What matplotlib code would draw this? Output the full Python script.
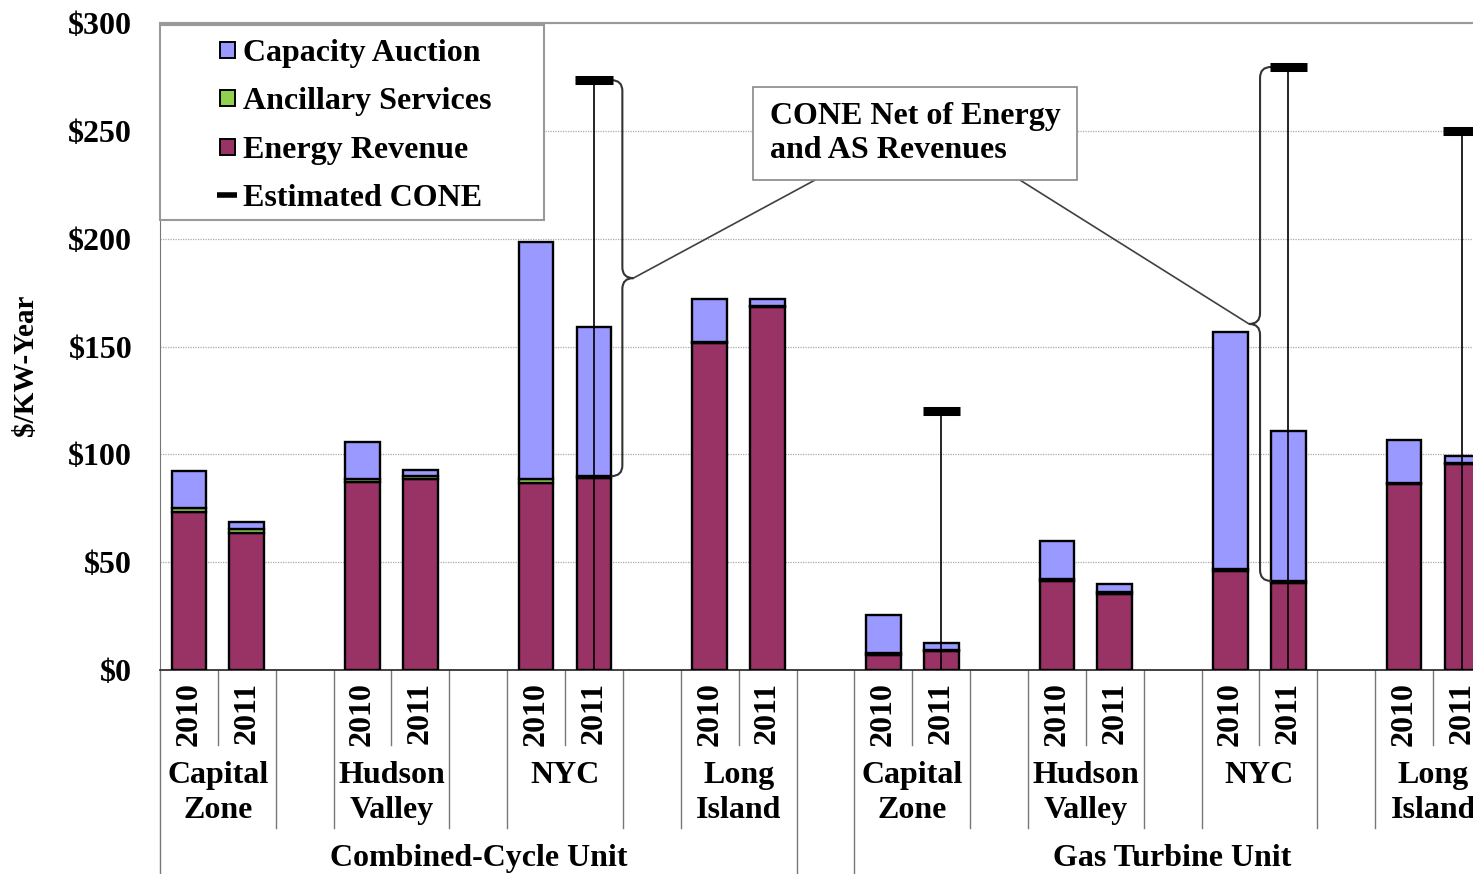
import numpy as np
import matplotlib
matplotlib.use("Agg")
import matplotlib.pyplot as plt
import matplotlib.transforms as mtransforms
from matplotlib.patches import Rectangle, PathPatch
from matplotlib.path import Path

plt.rcParams['font.family'] = ['Liberation Serif', 'DejaVu Serif']
plt.rcParams['font.weight'] = 'bold'
plt.rcParams['font.size'] = 23

# ---- data ($/kW-year), order: CC zones x (2010, 2011), then GT zones
units = ["Combined-Cycle Unit", "Gas Turbine Unit"]
regions = ["Capital\nZone", "Hudson\nValley", "NYC", "Long\nIsland"]
years = ["2010", "2011"]
energy = np.array([73.1, 63.4, 87.3, 88.4, 86.8, 88.9, 151.5, 168.3,
                   7.0, 8.7, 41.3, 35.4, 46.0, 40.5, 86.2, 95.6])
ancillary = np.array([1.9, 2.0, 1.2, 1.5, 1.6, 1.0, 0.6, 0.6,
                      1.0, 0.6, 0.9, 0.9, 0.6, 0.8, 0.6, 0.6])
capacity = np.array([17.4, 3.4, 17.3, 3.0, 110.2, 69.3, 19.7, 3.1,
                     17.5, 3.2, 17.6, 3.4, 110.3, 69.5, 19.7, 3.0])
cone = np.array([np.nan, np.nan, np.nan, np.nan, np.nan, 273.5, np.nan, np.nan,
                 np.nan, 120.0, np.nan, np.nan, np.nan, 279.6, np.nan, 250.0])
brace_bars = [5, 13]          # bars where "CONE net of E&AS" is bracketed
brace_side = [1, -1]

C_CAP, C_AS, C_EN = "#9999FF", "#92D050", "#993366"

W, H = 1473, 874
fig = plt.figure(figsize=(W / 100, H / 100), dpi=100)
ax = fig.add_axes([160 / W, (H - 670) / H, (W - 160) / W, (670 - 23) / H])

x = np.array([u * 12 + r * 3 + y for u in range(2) for r in range(4) for y in range(2)], float)
bw = 0.6
kw = dict(edgecolor="black", linewidth=1.7, zorder=3)
ax.bar(x, energy, bw, color=C_EN, **kw)
ax.bar(x, ancillary, bw, bottom=energy, color=C_AS, **kw)
ax.bar(x, capacity, bw, bottom=energy + ancillary, color=C_CAP, **kw)

# CONE markers with drop lines
m = ~np.isnan(cone)
ax.vlines(x[m], 0, cone[m], color="black", lw=1.2, zorder=5)
ax.hlines(cone[m], x[m] - 0.32, x[m] + 0.32, color="black", lw=6.5, zorder=6)


def brace(xs, xv, xt, top, bot, ry=5.0):
    mid = (top + bot) / 2
    verts = [(xs, top), (xv, top), (xv, top - ry),
             (xv, mid + ry), (xv, mid), (xt, mid),
             (xv, mid), (xv, mid - ry),
             (xv, bot + ry), (xv, bot), (xs, bot)]
    codes = [Path.MOVETO, Path.CURVE3, Path.CURVE3,
             Path.LINETO, Path.CURVE3, Path.CURVE3,
             Path.CURVE3, Path.CURVE3,
             Path.LINETO, Path.CURVE3, Path.CURVE3]
    ax.add_patch(PathPatch(Path(verts, codes), fill=False, ec="#333333",
                           lw=1.5, zorder=5))
    return xt, mid


tips = []
for i, s in zip(brace_bars, brace_side):
    tips.append(brace(x[i] + s * 0.3, x[i] + s * 0.49, x[i] + s * 0.68,
                      cone[i], energy[i] + ancillary[i]))

# callout box
bx0, bx1, by0, by1 = 9.75, 15.35, 227.2, 270.3
ax.add_patch(Rectangle((bx0, by0), bx1 - bx0, by1 - by0, fc="white",
                       ec="#888888", lw=1.2, zorder=7))
ax.text(bx0 + 0.3, (by0 + by1) / 2, "CONE Net of Energy\nand AS Revenues",
        ha="left", va="center", linespacing=1.27, zorder=8)
ax.plot([10.82, tips[0][0]], [by0, tips[0][1]], color="#404040", lw=1.2, zorder=4)
ax.plot([14.36, tips[1][0]], [by0, tips[1][1]], color="#404040", lw=1.2, zorder=4)

# axes styling
ax.set_xlim(-0.5, 22.19)
ax.set_ylim(0, 300)
yt = np.arange(0, 301, 50)
ax.set_yticks(yt)
ax.set_yticklabels([f"${v}" for v in yt])
ax.set_xticks(x)
ax.set_xticklabels(years * 8, rotation=90)
ax.tick_params(axis="y", length=0, pad=20)
ax.tick_params(axis="x", length=0, pad=9)
ax.yaxis.grid(True, ls=(0, (1, 1)), color="#aaaaaa", lw=0.9)
ax.set_axisbelow(True)
ax.spines["right"].set_visible(False)
ax.spines["top"].set_color("#999999")
ax.spines["top"].set_linewidth(1.5)
ax.spines["left"].set_color("#777777")
ax.spines["bottom"].set_color("#333333")
ax.spines["bottom"].set_linewidth(1.3)

# multi-level category axis
trans = mtransforms.blended_transform_factory(ax.transData, ax.transAxes)
for k in range(-1, 23):
    pos = k + 0.5
    if pos > 22.19:
        continue
    if k in (-1, 10, 11):
        depth = -0.315
    elif k % 3 == 0:
        depth = -0.116
    else:
        depth = -0.244
    ax.plot([pos, pos], [0, depth], transform=trans, clip_on=False,
            color="#777777", lw=1.0)
for u in range(2):
    for r in range(4):
        ax.text(u * 12 + r * 3 + 0.5, -0.141, regions[r], transform=trans,
                ha="center", va="top", linespacing=1.27)
    ax.text(u * 12 + 5, -0.291, units[u], transform=trans, ha="center", va="center")

fig.text(25 / W, 1 - 365 / H, "$/KW-Year", rotation=90, ha="center", va="center",
         fontsize=21)


# legend drawn by hand (frame sits against the top-left of the plot)
def px(xp, yp):
    return xp / W, 1 - yp / H


fig.add_artist(Rectangle(px(160, 220), 384 / W, 195 / H, transform=fig.transFigure,
                         fc="white", ec="#999999", lw=1.5, zorder=10))
leg_labels = ["Capacity Auction", "Ancillary Services", "Energy Revenue", "Estimated CONE"]
leg_colors = [C_CAP, C_AS, C_EN, None]
for j, (lab, col) in enumerate(zip(leg_labels, leg_colors)):
    base = 61 + 48.3 * j
    if col is None:
        fig.add_artist(plt.Line2D([217 / W, 237 / W], [px(0, base - 11)[1]] * 2,
                                  transform=fig.transFigure, color="black", lw=4,
                                  solid_capstyle="butt", zorder=11))
    else:
        fig.add_artist(Rectangle(px(220, base - 3), 15 / W, 16 / H,
                                 transform=fig.transFigure, fc=col, ec="black",
                                 lw=1.4, zorder=11))
    fig.text(*px(243, base), lab, ha="left", va="baseline", zorder=12)

fig.savefig("out.png", dpi=100)
